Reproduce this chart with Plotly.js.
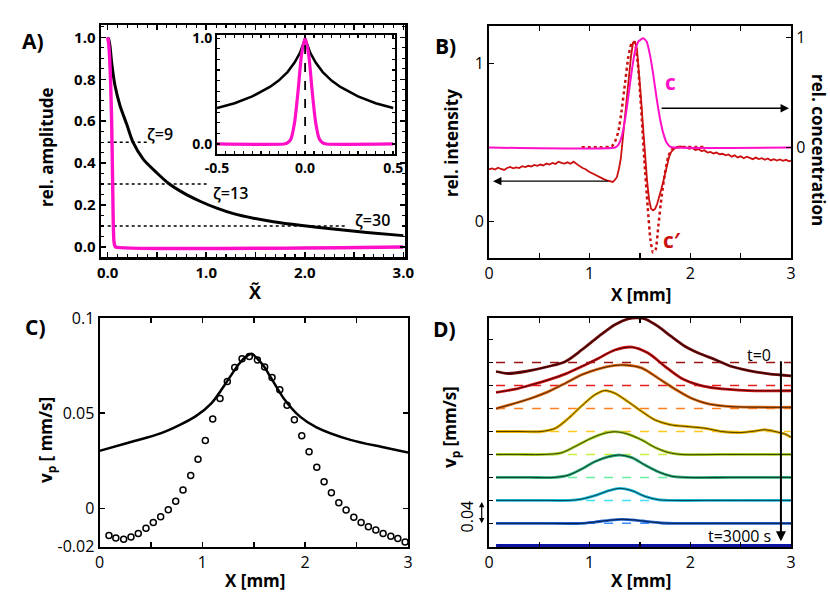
<!DOCTYPE html>
<html><head><meta charset="utf-8">
<script src="https://cdn.plot.ly/plotly-3.0.1.min.js"></script>
<style>html,body{margin:0;padding:0;background:#fff}#chart{width:830px;height:598px}</style>
</head><body><div id="chart"></div>
<script>
// ---------- Panel A ----------
const aBlackX = [0, 0.01, 0.023, 0.04, 0.074, 0.125, 0.193, 0.254, 0.362, 0.497, 0.616, 0.768, 0.937, 1.107, 1.276, 1.479, 1.682, 1.952, 2.29, 2.63, 3.0];
const aBlackY = [1.0, 0.99, 0.96, 0.88, 0.77, 0.674, 0.585, 0.502, 0.418, 0.354, 0.304, 0.258, 0.218, 0.185, 0.159, 0.137, 0.12, 0.103, 0.086, 0.069, 0.054];
const aMagX = [0, 0.01, 0.02, 0.03, 0.04, 0.047, 0.052, 0.057, 0.063, 0.07, 0.08, 3.0];
const aMagY = [1.0, 0.97, 0.9, 0.78, 0.6, 0.4, 0.25, 0.1, 0.03, 0.008, 0, 0];
const zetaLevels = [0.5, 0.3, 0.1];
const zetaEnds = [0.41, 1.02, 2.43];
const zetaLabels = ['ζ=9', 'ζ=13', 'ζ=30'];
const zetaLabelX = [0.38, 1.045, 2.49];
const zetaLabelY = [0.537, 0.258, 0.13];
// inset
const inBlackX = [-0.5, -0.4, -0.3, -0.2, -0.15, -0.1, -0.06, -0.03, -0.01, 0, 0.01, 0.03, 0.06, 0.1, 0.15, 0.2, 0.3, 0.4, 0.5];
const inBlackY = [0.34, 0.385, 0.45, 0.54, 0.6, 0.68, 0.77, 0.86, 0.95, 1.0, 0.95, 0.86, 0.77, 0.68, 0.6, 0.54, 0.45, 0.385, 0.34];
const inMagX = [-0.5, -0.12, -0.1, -0.08, -0.06, -0.04, -0.02, 0, 0.02, 0.04, 0.06, 0.08, 0.1, 0.12, 0.5];
const inMagY = [0, 0, 0.01, 0.05, 0.2, 0.5, 0.85, 1.0, 0.85, 0.5, 0.2, 0.05, 0.01, 0, 0];

// ---------- Panel B ----------
const bRedX = [0,0.03,0.06,0.09,0.12,0.15,0.18,0.21,0.24,0.27,0.30,0.33,0.36,0.39,0.42,0.45,0.48,0.51,0.54,0.57,0.60,0.63,0.66,0.69,0.72,0.75,0.78,0.81,0.84,0.87,0.90,0.93,0.96,0.99,1.02,1.05,1.08,1.11,1.14,1.17,1.20,1.23,1.25,1.27,1.29,1.31,1.33,1.35,1.37,1.39,1.41,1.43,1.45,1.47,1.49,1.51,1.53,1.55,1.57,1.59,1.61,1.63,1.65,1.67,1.69,1.71,1.73,1.75,1.77,1.79,1.81,1.84,1.87,1.90,1.93,1.96,1.99,2.02,2.05,2.08,2.11,2.14,2.17,2.20,2.23,2.26,2.29,2.32,2.35,2.38,2.41,2.44,2.47,2.50,2.53,2.56,2.59,2.62,2.65,2.68,2.71,2.74,2.77,2.80,2.83,2.86,2.89,2.92,2.95,2.98,3.0];
const bRedY = [0.33,0.335,0.328,0.34,0.332,0.326,0.338,0.345,0.336,0.342,0.338,0.35,0.344,0.352,0.348,0.358,0.352,0.36,0.354,0.366,0.36,0.37,0.364,0.378,0.37,0.366,0.374,0.365,0.378,0.362,0.35,0.338,0.33,0.316,0.306,0.295,0.284,0.276,0.268,0.26,0.256,0.25,0.262,0.28,0.33,0.40,0.53,0.66,0.79,0.93,1.04,1.13,1.135,1.09,0.95,0.78,0.6,0.42,0.26,0.14,0.08,0.07,0.08,0.11,0.15,0.2,0.25,0.3,0.36,0.41,0.44,0.46,0.47,0.475,0.47,0.468,0.46,0.465,0.452,0.458,0.445,0.45,0.436,0.44,0.43,0.436,0.425,0.428,0.418,0.424,0.41,0.418,0.405,0.412,0.4,0.41,0.402,0.394,0.404,0.395,0.4,0.39,0.398,0.386,0.394,0.385,0.392,0.384,0.39,0.38,0.385];
const bDotX = [0.92,1.12,1.218,1.252,1.285,1.318,1.351,1.384,1.417,1.444,1.477,1.51,1.543,1.576,1.603,1.629,1.656,1.682,1.715,1.748,1.781,1.814,1.847,2.161];
const bDotY = [0.47,0.47,0.474,0.505,0.568,0.704,0.872,1.04,1.128,1.134,1.008,0.725,0.39,0.096,-0.113,-0.197,-0.176,-0.03,0.159,0.306,0.411,0.453,0.468,0.47];
const bConcX = [0,1.252,1.285,1.318,1.351,1.384,1.417,1.45,1.483,1.533,1.566,1.599,1.632,1.665,1.698,1.731,1.764,1.798,1.847,3.0];
const bConcY = [0,0,0.024,0.1,0.252,0.464,0.69,0.873,0.964,0.994,0.964,0.843,0.661,0.449,0.267,0.131,0.045,0.009,0,0];

// ---------- Panel C ----------
const cLineX = [0, 0.28, 0.6, 0.93, 1.09, 1.25, 1.35, 1.42, 1.48, 1.535, 1.6, 1.66, 1.79, 1.95, 2.11, 2.44, 2.76, 3.0];
const cLineY = [0.0302, 0.0345, 0.0395, 0.0482, 0.0553, 0.0675, 0.0754, 0.0795, 0.0812, 0.0786, 0.0745, 0.0693, 0.0579, 0.0482, 0.0426, 0.036, 0.0321, 0.0293];
const cPtsX = [0.092,0.159,0.235,0.306,0.377,0.452,0.523,0.595,0.669,0.741,0.812,0.887,0.958,1.029,1.101,1.172,1.243,1.315,1.386,1.457,1.535,1.606,1.678,1.753,1.824,1.895,1.967,2.038,2.113,2.184,2.255,2.327,2.398,2.473,2.544,2.615,2.687,2.758,2.833,2.901,2.972];
const cPtsY = [-0.0142,-0.0156,-0.0162,-0.0151,-0.0132,-0.0105,-0.0074,-0.0044,-0.0007,0.0037,0.0096,0.0172,0.0258,0.0356,0.047,0.0577,0.0666,0.074,0.0786,0.0798,0.078,0.0742,0.0688,0.0623,0.0542,0.0465,0.0382,0.0298,0.0216,0.014,0.0082,0.003,-0.0009,-0.0047,-0.0074,-0.0097,-0.0114,-0.0132,-0.0146,-0.0158,-0.0177];

// ---------- Panel D ---------- (t=0 at top ... t=3000 s at bottom)
const dOffsets = [0.32, 0.28, 0.24, 0.20, 0.16, 0.12, 0.08, 0.04, 0.0];
const dX = [
  [0.07,0.19,0.36,0.59,0.76,0.92,1.09,1.25,1.38,1.47,1.55,1.68,1.81,1.95,2.08,2.25,2.41,2.58,2.78,3.0],
  [0.07,0.26,0.42,0.59,0.76,0.92,1.09,1.25,1.42,1.58,1.75,1.91,2.08,2.25,2.58,3.0],
  [0.07,0.26,0.42,0.59,0.76,0.92,1.09,1.25,1.35,1.52,1.68,1.85,2.01,2.18,2.41,3.0],
  [0.07,0.3,0.52,0.66,0.79,0.92,1.05,1.15,1.25,1.38,1.52,1.65,1.81,1.98,2.15,2.31,2.48,2.61,2.74,2.84,2.94,3.0],
  [0.07,0.3,0.55,0.72,0.85,0.99,1.12,1.25,1.38,1.52,1.65,1.78,1.91,2.3,3.0],
  [0.07,0.4,0.65,0.79,0.92,1.05,1.19,1.3,1.42,1.55,1.68,1.81,1.95,2.4,3.0],
  [0.07,0.5,0.8,0.92,1.05,1.19,1.3,1.42,1.55,1.68,1.8,2.3,3.0],
  [0.07,0.5,0.92,1.05,1.19,1.31,1.45,1.58,1.71,1.85,2.3,3.0],
  [0.07,3.0]
];
const dV = [
  [-0.0155,-0.019,-0.0155,-0.0068,0.002,0.022,0.0456,0.066,0.076,0.078,0.076,0.063,0.0456,0.028,0.0166,0.005,-0.0068,-0.0138,-0.0196,-0.023],
  [-0.012,-0.0063,0.0012,0.01,0.0204,0.0332,0.0478,0.062,0.067,0.0566,0.0332,0.0129,0.0012,-0.0046,-0.0087,-0.009],
  [0,0.0092,0.018,0.0295,0.0442,0.0587,0.0692,0.075,0.0758,0.0704,0.0529,0.0337,0.018,0.008,0.0033,0.0022],
  [0,0,0,0.0056,0.023,0.0445,0.0638,0.0713,0.0667,0.052,0.0346,0.02,0.0114,0.0085,0.0056,0,-0.002,0,0.003,0,-0.0044,-0.0101],
  [0,0,0,0.0029,0.0134,0.0262,0.0355,0.0396,0.0355,0.025,0.0122,0.0035,0,0,0],
  [0,0,0,0.004,0.0146,0.0274,0.0361,0.039,0.0344,0.0215,0.0099,0.0023,0,0,0],
  [0,0,0,0.0023,0.0082,0.0169,0.021,0.0169,0.007,0.0012,0,0,0],
  [0,0,0,0.0023,0.0052,0.007,0.0058,0.0029,0.0006,0,0,0],
  [0,0]
];
const dDashColors = ['#9a1212','#e81c1c','#ff8020','#ffc820','#c8f040','#66f0a0','#40e0f4','#3c8cff','#0a14a0'];
const dLineColors = ['#7a0c0c','#d01414','#e06c14','#e8b400','#a8cc20','#30b07c','#20bcdc','#1c60d0','#0a14a0'];

// ---------- helpers ----------
const W = 830, H = 598;
const px = v => v / W, py = v => 1 - v / H;
const FONT = 'Open Sans, Lato, sans-serif';
const tickA = {family: FONT, size: 15, color: 'black', weight: 700};
const tickN = {family: FONT, size: 16, color: 'black', weight: 400};
function ax(extra) {
  return Object.assign({showgrid:false, zeroline:false, showline:true, linecolor:'black', linewidth:2,
    ticks:'inside', tickcolor:'black', tickwidth:1.5, ticklen:5, mirror:'ticks', fixedrange:true, tickfont: tickN}, extra);
}
const halfTicks = [0,0.5,1,1.5,2,2.5,3];
const halfText = ['0','','1','','2','','3'];

const traces = [];
// A
zetaLevels.forEach((lv, i) => traces.push({x:[0, zetaEnds[i]], y:[lv, lv], xaxis:'x', yaxis:'y', mode:'lines',
  line:{color:'black', width:1.5, dash:'dot'}, hoverinfo:'skip', showlegend:false}));
traces.push({x:aBlackX, y:aBlackY, xaxis:'x', yaxis:'y', mode:'lines', line:{color:'black', width:3, shape:'spline', smoothing:0.6}, showlegend:false});
traces.push({x:aMagX, y:aMagY, xaxis:'x', yaxis:'y', mode:'lines', line:{color:'#ff10c8', width:3.4, shape:'spline', smoothing:0.5}, showlegend:false});
// inset
traces.push({x:inBlackX, y:inBlackY, xaxis:'x2', yaxis:'y2', mode:'lines', line:{color:'black', width:2.5}, showlegend:false});
traces.push({x:inMagX, y:inMagY, xaxis:'x2', yaxis:'y2', mode:'lines', line:{color:'#ff10c8', width:3.2, shape:'spline', smoothing:0.6}, showlegend:false});
traces.push({x:[0,0], y:[0,1], xaxis:'x2', yaxis:'y2', mode:'lines', line:{color:'black', width:1.8, dash:'dash'}, showlegend:false});
// B
traces.push({x:bConcX, y:bConcY, xaxis:'x3', yaxis:'y4', mode:'lines', line:{color:'#ff10c8', width:2, shape:'spline', smoothing:0.5}, showlegend:false});
traces.push({x:bDotX, y:bDotY, xaxis:'x3', yaxis:'y3', mode:'lines', line:{color:'#cc1010', width:2.5, dash:'dot', shape:'spline', smoothing:0.5}, showlegend:false});
traces.push({x:bRedX, y:bRedY, xaxis:'x3', yaxis:'y3', mode:'lines', line:{color:'#cc1010', width:1.8}, showlegend:false});
// C
traces.push({x:cLineX, y:cLineY, xaxis:'x5', yaxis:'y5', mode:'lines', line:{color:'black', width:2.5, shape:'spline', smoothing:0.8}, showlegend:false});
traces.push({x:cPtsX, y:cPtsY, xaxis:'x5', yaxis:'y5', mode:'markers', marker:{symbol:'circle-open', size:6, color:'black', line:{width:1.5, color:'black'}}, showlegend:false});
// D
dOffsets.forEach((off, k) => {
  if (off > 0) traces.push({x:[0.07, 3.0], y:[off, off], xaxis:'x6', yaxis:'y6', mode:'lines', line:{color:dDashColors[k], width:1.5, dash:'dash'}, showlegend:false});
});
dOffsets.forEach((off, k) => {
  const yy = dV[k].map(v => v + off);
  if (off > 0) {
    traces.push({x:dX[k], y:yy, xaxis:'x6', yaxis:'y6', mode:'lines', line:{color:dLineColors[k], width:2.8, shape:'spline', smoothing:0.8}, showlegend:false});
    traces.push({x:dX[k], y:yy, xaxis:'x6', yaxis:'y6', mode:'lines', opacity:0.75, line:{color:'black', width:0.9, shape:'spline', smoothing:0.8}, showlegend:false});
  } else {
    traces.push({x:dX[k], y:yy, xaxis:'x6', yaxis:'y6', mode:'lines', line:{color:dLineColors[k], width:4.5}, showlegend:false, cliponaxis:false});
  }
});

const titleFont = {family: FONT, size: 17, color: 'black', weight: 700};
const panelFont = {family: FONT, size: 21, color: 'black', weight: 700};
function T(text, x, y, font, extra) {
  return Object.assign({text:text, xref:'paper', yref:'paper', x:px(x), y:py(y), xanchor:'center', yanchor:'middle', showarrow:false, font:font}, extra || {});
}
const annotations = [
  T('A)', 33, 41, panelFont), T('B)', 445, 46, panelFont), T('C)', 35, 327, panelFont), T('D)', 444, 329, panelFont),
  T('rel. amplitude', 47, 147, titleFont, {textangle:-90}),
  T('X̃', 255, 292, {family:FONT, size:18, color:'black', weight:700}),
  T('rel. intensity', 452, 143, titleFont, {textangle:-90}),
  T('rel. concentration', 819, 150, titleFont, {textangle:90}),
  T('X [mm]', 641, 294, titleFont),
  T('v<sub>p</sub> [ mm/s]', 46, 440, titleFont, {textangle:-90}),
  T('X [mm]', 255, 580, titleFont),
  T('v<sub>p</sub> [mm/s]', 450, 427, titleFont, {textangle:-90}),
  T('X [mm]', 641, 580, titleFont),
  // B labels and arrows
  {text:'c', xref:'x3', yref:'y3', x:1.80, y:0.88, xanchor:'center', yanchor:'middle', showarrow:false, font:{family:FONT, size:21, color:'#ff10c8', weight:700}},
  {text:'c′', xref:'x3', yref:'y3', x:1.82, y:-0.12, xanchor:'center', yanchor:'middle', showarrow:false, font:{family:FONT, size:21, color:'#cc1010', weight:700}},
  {text:'', xref:'x3', yref:'y3', x:0.04, y:0.255, axref:'x3', ayref:'y3', ax:1.2, ay:0.255, showarrow:true, arrowhead:2, arrowsize:1.2, arrowwidth:1.4, arrowcolor:'black'},
  {text:'', xref:'x3', yref:'y3', x:2.98, y:0.716, axref:'x3', ayref:'y3', ax:1.7, ay:0.716, showarrow:true, arrowhead:2, arrowsize:1.2, arrowwidth:1.4, arrowcolor:'black'},
  // D labels and arrows
  {text:'t=0', xref:'x6', yref:'y6', x:2.82, y:0.333, xanchor:'right', yanchor:'middle', showarrow:false, font:{family:FONT, size:16, color:'black', weight:500}},
  {text:'t=3000 s', xref:'x6', yref:'y6', x:2.82, y:0.0175, xanchor:'right', yanchor:'middle', showarrow:false, font:{family:FONT, size:16, color:'black', weight:500}},
  {text:'', xref:'x6', yref:'y6', x:2.9, y:0.009, axref:'x6', ayref:'y6', ax:2.9, ay:0.325, showarrow:true, arrowhead:2, arrowsize:1, arrowwidth:2, arrowcolor:'black'},
  {text:'', xref:'paper', yref:'y6', x:px(481.7), y:0.04, axref:'pixel', ayref:'y6', ax:0, ay:0.08, showarrow:true, arrowhead:2, arrowside:'end+start', arrowsize:0.9, arrowwidth:1.2, arrowcolor:'black'},
  {text:'0.04', xref:'paper', yref:'y6', x:px(467), y:0.052, xanchor:'center', yanchor:'middle', textangle:-90, showarrow:false, font:{family:FONT, size:16, color:'black', weight:500}}
];
zetaLabels.forEach((t, i) => annotations.push({text:t, xref:'x', yref:'y', x:zetaLabelX[i], y:zetaLabelY[i], xanchor:'left', yanchor:'middle', showarrow:false, font:{family:FONT, size:16, color:'black', weight:600}}));

const minorA = {ticks:'inside', ticklen:3, tickwidth:1.2, tickcolor:'black'};
const layout = {
  width: W, height: H, margin:{l:0, r:0, t:0, b:0}, paper_bgcolor:'white', plot_bgcolor:'rgba(0,0,0,0)',
  showlegend:false, font:{family:FONT, color:'black'},
  xaxis: ax({domain:[px(101), px(405)], anchor:'y', range:[-0.068, 3.017], tickvals:halfTicks, ticktext:['0.0','','1.0','','2.0','','3.0'], tickfont:tickA, linewidth:2.5,
    minor:Object.assign({tickmode:'linear', tick0:0, dtick:0.1}, minorA)}),
  yaxis: ax({domain:[py(257), py(25)], anchor:'x', range:[-0.048, 1.059], tickvals:[0,0.2,0.4,0.6,0.8,1.0], ticktext:['0.0','0.2','0.4','0.6','0.8','1.0'], tickfont:tickA, linewidth:2.5,
    minor:Object.assign({tickmode:'linear', tick0:0, dtick:0.05}, minorA)}),
  xaxis2: ax({domain:[px(217), px(395)], anchor:'y2', range:[-0.5, 0.51], tickvals:[-0.5,0,0.5], ticktext:['-0.5','0.0','0.5'], tickfont:{family:FONT, size:14, color:'black', weight:700}, ticklen:3,
    minor:Object.assign({tickmode:'linear', tick0:0, dtick:0.05}, minorA)}),
  yaxis2: ax({domain:[py(154), py(35)], anchor:'x2', range:[-0.095, 1.031], tickvals:[0,1], ticktext:['0.0','1.0'], tickfont:{family:FONT, size:14, color:'black', weight:700}, ticklen:3,
    minor:Object.assign({tickmode:'linear', tick0:0, dtick:0.1}, minorA)}),
  xaxis3: ax({domain:[px(489), px(791)], anchor:'y3', range:[0, 3], tickvals:halfTicks, ticktext:halfText}),
  yaxis3: ax({domain:[py(258), py(26)], anchor:'x3', range:[-0.231, 1.236], tickvals:[0,1], ticktext:['0','1'], mirror:false}),
  yaxis4: ax({overlaying:'y3', side:'right', anchor:'x3', range:[-1.005, 1.106], tickvals:[0,1], ticktext:['0','1'], mirror:false}),
  xaxis5: ax({domain:[px(99.5), px(408)], anchor:'y5', range:[0, 3], tickvals:halfTicks, ticktext:halfText}),
  yaxis5: ax({domain:[py(547), py(318)], anchor:'x5', range:[-0.0203, 0.1], tickvals:[-0.02,0,0.05,0.1], ticktext:['-0.02','0','0.05','0.1']}),
  xaxis6: ax({domain:[px(489), px(791)], anchor:'y6', range:[0, 3], tickvals:halfTicks, ticktext:halfText}),
  yaxis6: ax({domain:[py(547), py(318)], anchor:'x6', range:[-0.0012, 0.3977], tickvals:[0,0.04,0.08,0.12,0.16,0.2,0.24,0.28,0.32,0.36], showticklabels:false, mirror:true, ticks:'inside', ticklen:4}),
  annotations: annotations
};
Plotly.newPlot('chart', traces, layout, {staticPlot:true, displayModeBar:false});
</script></body></html>
